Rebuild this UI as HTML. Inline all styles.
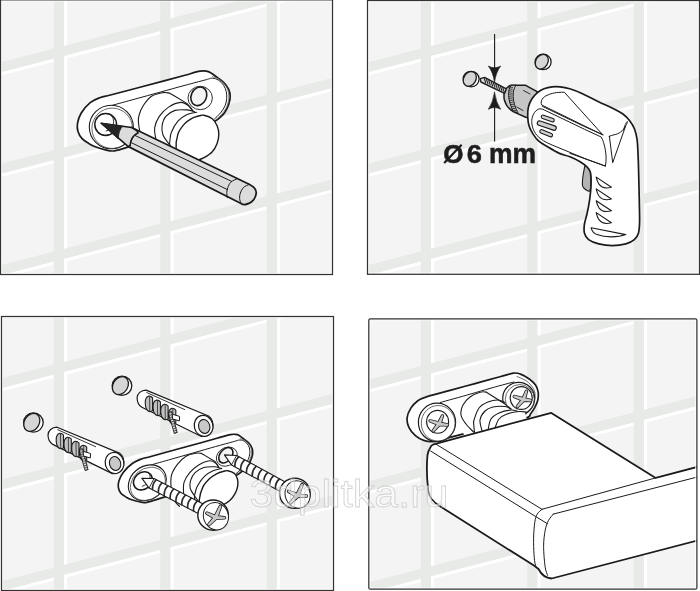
<!DOCTYPE html><html><head><meta charset="utf-8"><style>
html,body{margin:0;padding:0;background:#fff;width:700px;height:591px;overflow:hidden}
svg{display:block}
</style></head><body>
<svg width="700" height="591" viewBox="0 0 700 591">
<defs><filter id="gs" x="-0.05" y="-0.2" width="1.1" height="1.4"><feColorMatrix type="saturate" values="0"/></filter><g id="tiles"><polygon points="-20,-23.72 360,-122.14 360,-118.94 -20,-20.52" fill="#ffffff"/>
<polygon points="-20,77.68 360,-20.74 360,-17.54 -20,80.88" fill="#ffffff"/>
<polygon points="-20,179.18 360,80.76 360,83.96 -20,182.38" fill="#ffffff"/>
<polygon points="-20,280.58 360,182.16 360,185.36 -20,283.78" fill="#ffffff"/>
<polygon points="-20,381.98 360,283.56 360,286.76 -20,385.18" fill="#ffffff"/>
<rect x="-42.40" y="-20" width="3.2" height="320" fill="#ffffff"/>
<rect x="64.00" y="-20" width="3.2" height="320" fill="#ffffff"/>
<rect x="170.40" y="-20" width="3.2" height="320" fill="#ffffff"/>
<rect x="276.90" y="-20" width="3.2" height="320" fill="#ffffff"/>
<rect x="383.30" y="-20" width="3.2" height="320" fill="#ffffff"/>
<polygon points="-20,-33.72 360,-132.14 360,-122.14 -20,-23.72" fill="#e8eae8"/>
<polygon points="-20,67.68 360,-30.74 360,-20.74 -20,77.68" fill="#e8eae8"/>
<polygon points="-20,169.18 360,70.76 360,80.76 -20,179.18" fill="#e8eae8"/>
<polygon points="-20,270.58 360,172.16 360,182.16 -20,280.58" fill="#e8eae8"/>
<polygon points="-20,371.98 360,273.56 360,283.56 -20,381.98" fill="#e8eae8"/>
<rect x="-52.60" y="-20" width="10.2" height="320" fill="#e8eae8"/>
<rect x="53.80" y="-20" width="10.2" height="320" fill="#e8eae8"/>
<rect x="160.20" y="-20" width="10.2" height="320" fill="#e8eae8"/>
<rect x="266.70" y="-20" width="10.2" height="320" fill="#e8eae8"/>
<rect x="373.10" y="-20" width="10.2" height="320" fill="#e8eae8"/></g>
<clipPath id="c0"><rect x="0.5" y="-0.15" width="332" height="274.65"/></clipPath>
<clipPath id="c1"><rect x="367.5" y="0.5" width="332" height="273.8"/></clipPath>
<clipPath id="c2"><rect x="1.5" y="316.5" width="332" height="274"/></clipPath>
<clipPath id="c3"><rect x="368.8" y="318.8" width="328.1" height="270.4"/></clipPath>
</defs>
<rect width="700" height="591" fill="#fff"/>
<g clip-path="url(#c0)"><rect x="0.5" y="-0.15" width="332" height="274.65" fill="#f4f4f4"/><use href="#tiles" transform="translate(0,0) scale(1,1)"/></g>
<g clip-path="url(#c1)"><rect x="367.5" y="0.5" width="332" height="273.8" fill="#f4f4f4"/><use href="#tiles" transform="translate(367,0) scale(1,1)"/></g>
<g clip-path="url(#c2)"><rect x="1.5" y="316.5" width="332" height="274" fill="#f4f4f4"/><use href="#tiles" transform="translate(0,316) scale(1,1)"/></g>
<g clip-path="url(#c3)"><rect x="368.8" y="318.8" width="328.1" height="270.4" fill="#f4f4f4"/><use href="#tiles" transform="translate(367,317.4) scale(1,1)"/></g>
<g clip-path="url(#c0)"><g id="bracket">
<path vector-effect="non-scaling-stroke" d="M110.5,95 C117.1,93.3 130.9,89.6 140,87.2 C149.1,84.8 157.5,82.6 165,80.6 C172.5,78.6 179.1,76.8 185,75.2 C190.9,73.6 196.3,71.8 200.2,71.2 C204.1,70.6 205.8,70.8 208.4,71.6 C211,72.4 213,74.4 215.5,76.2 C218,78 221.4,80.1 223.6,82.3 C225.8,84.5 227.6,87 228.7,89.4 C229.8,91.8 230.2,94 230.2,96.5 C230.2,99 229.6,101.9 228.7,104.6 C227.8,107.3 226.3,110.4 224.6,112.8 C222.9,115.2 220.6,117.3 218.5,118.9 C216.4,120.5 215.9,121.1 212,122.5 C208.1,123.9 202.8,125.2 195,127.5 C187.2,129.8 175,133.3 165,136.2 C155,139.1 143.4,142.5 135,144.9 C126.6,147.3 119.5,150 114.6,150.8 C109.7,151.6 108.7,150.5 105.5,149.8 C102.3,149.1 98,147.8 95.3,146.8 C92.6,145.8 91.4,145 89.2,143.7 C87,142.3 84,140.7 82.1,138.7 C80.2,136.7 78.8,134.1 78,131.5 C77.2,128.9 77,126.4 77.5,123.4 C78,120.4 79,116.8 81.1,113.3 C83.2,109.8 87,105.2 90.2,102.6 C93.4,100 97,98.8 100.4,97.5 C103.8,96.2 103.9,96.7 110.5,95Z" fill="#fff" stroke="#1b1b1b" stroke-width="1.7" stroke-linejoin="round" stroke-linecap="round" />
<path vector-effect="non-scaling-stroke" d="M112.6,105.2 C116.3,104.2 127,101.3 134.9,99.1 C142.8,96.9 151.7,94.5 160,92.2 C168.3,89.9 177.5,87.3 185,85.3 C192.5,83.3 200.4,81.2 205,80 C209.6,78.8 210.2,78.2 212.4,78.2 C214.7,78.2 216.6,79 218.5,80.2 C220.4,81.4 222.3,83.4 223.6,85.3 C224.9,87.2 225.7,89.2 226.2,91.4 C226.7,93.6 226.9,96.1 226.7,98.5 C226.5,100.9 226.1,103.2 225.1,105.6 C224.1,108 222.4,110.6 220.6,112.8 C218.8,115 215.5,118 214.5,119" fill="none" stroke="#1b1b1b" stroke-width="1.0" stroke-linejoin="round" stroke-linecap="round" />
<path vector-effect="non-scaling-stroke" d="M212.4,76.6 C213.6,77 217.3,77.8 219.5,79.2 C221.7,80.6 223.9,82.8 225.3,84.8 C226.8,86.8 227.6,89.1 228.2,91.4 C228.8,93.7 228.9,96.1 228.7,98.5 C228.5,100.9 228.1,103.3 227.1,105.8 C226.1,108.2 224.4,110.9 222.6,113.2 C220.8,115.5 217.1,118.5 216,119.6" fill="none" stroke="#555" stroke-width="0.7" stroke-linejoin="round" stroke-linecap="round" />
<ellipse vector-effect="non-scaling-stroke" cx="111.3" cy="127" rx="22" ry="21.8" fill="#fff" stroke="#1b1b1b" stroke-width="1.1" />
<ellipse vector-effect="non-scaling-stroke" cx="112.2" cy="128.3" rx="20.3" ry="20.2" fill="none" stroke="#444" stroke-width="0.8" />
<ellipse vector-effect="non-scaling-stroke" cx="105.7" cy="124.5" rx="10.9" ry="11.1" fill="#fff" stroke="#1b1b1b" stroke-width="1.5" />
<path vector-effect="non-scaling-stroke" d="M108.5,113.8 C109.2,114.3 111.7,115.5 112.5,117 C113.3,118.5 113.8,121.1 113.5,123 C113.2,124.9 112.2,127.2 111,128.5 C109.8,129.8 106.8,130.6 106,131" fill="none" stroke="#1b1b1b" stroke-width="0.9" stroke-linejoin="round" stroke-linecap="round" />
<path vector-effect="non-scaling-stroke" d="M98,133 C98.8,133.4 101,135.1 103,135.3 C105,135.6 108.8,134.6 110,134.5" fill="none" stroke="#1b1b1b" stroke-width="0.8" stroke-linejoin="round" stroke-linecap="round" />
<ellipse vector-effect="non-scaling-stroke" cx="200.2" cy="98" rx="12.2" ry="11.7" fill="none" stroke="#1b1b1b" stroke-width="0.9" />
<ellipse vector-effect="non-scaling-stroke" cx="198.8" cy="96.3" rx="7.6" ry="9.6" fill="#f4f4f4" stroke="#1b1b1b" stroke-width="1.6" transform="rotate(25 198.8 96.3)" />
<path vector-effect="non-scaling-stroke" d="M168.8,93 C170.5,93.4 170.2,93.3 173.3,95 C176.4,96.7 183.9,100.8 187.2,103.4 C190.4,106 190.8,108.7 192.8,110.8 C194.8,112.9 197.4,115.3 199.3,116 C201.2,116.7 201.8,114.6 204,115.1 C206.2,115.5 210.1,116.9 212.3,118.7 C214.5,120.5 216,123.2 217.1,125.8 C218.2,128.4 218.8,131.2 218.8,134.1 C218.8,137 218.2,140.6 217.1,143.5 C216,146.4 214.5,149.4 212.3,151.8 C210.1,154.2 207.7,156 204,157.7 C200.3,159.4 197.3,161.6 190,162 C182.7,162.4 167.8,163.7 160,160 C152.2,156.3 146.3,144.7 143,140 C139.7,135.3 140.8,135.2 140,132 C139.2,128.8 138.6,123.3 138.4,120.5 C138.2,117.7 138.2,117.5 139.1,115 C139.9,112.5 141.4,108.5 143.5,105.3 C145.6,102.1 148.7,98.1 151.9,96 C155.1,93.9 160.1,93.1 162.9,92.6 C165.7,92.1 167.1,92.6 168.8,93Z" fill="#fff" stroke="none" stroke-width="1.0" stroke-linejoin="round" stroke-linecap="round" />
<path vector-effect="non-scaling-stroke" d="M169,93 C168,92.9 165.8,92.1 162.9,92.6 C160.1,93.1 155.1,93.9 151.9,96 C148.7,98.1 145.6,102.1 143.5,105.3 C141.4,108.5 139.9,112.2 139.1,115 C138.2,117.8 138.2,119.2 138.4,122 C138.6,124.8 139.2,128.7 140,132 C140.8,135.3 141.7,138.8 143,142 C144.3,145.2 146.2,148.5 148,151 C149.8,153.5 153,156 154,157" fill="none" stroke="#1b1b1b" stroke-width="1.1" stroke-linejoin="round" stroke-linecap="round" />
<path vector-effect="non-scaling-stroke" d="M169,93 L173.3,95.3 L187.2,103.6 L192.8,110.8" fill="none" stroke="#1b1b1b" stroke-width="1.1" stroke-linejoin="round" stroke-linecap="round" />
<path vector-effect="non-scaling-stroke" d="M163,156 C162.2,154.7 159.2,151 158,148 C156.8,145 156.2,141.2 155.6,137.8 C155,134.4 154.1,131.2 154.7,127.6 C155.3,124 157,119.8 159.3,116.4 C161.6,113 165,109.4 168.6,107.1 C172.2,104.8 177.3,102.6 180.7,102.4 C184.1,102.2 187.1,104.8 189.1,106.2 C191.1,107.6 192.2,110 192.8,110.8" fill="none" stroke="#1b1b1b" stroke-width="1.1" stroke-linejoin="round" stroke-linecap="round" />
<path vector-effect="non-scaling-stroke" d="M175,151 C173.9,149.7 170.6,146.1 168.6,143.4 C166.6,140.7 164.1,137.9 163,135 C161.9,132.1 161.6,128.8 162.1,125.7 C162.6,122.6 163.6,119 165.8,116.4 C168,113.9 171.5,111.5 175.1,110.4 C178.7,109.3 183.9,109.7 187.2,109.9 C190.5,110.1 193.4,111.5 194.7,111.8" fill="none" stroke="#1b1b1b" stroke-width="1.1" stroke-linejoin="round" stroke-linecap="round" />
<path vector-effect="non-scaling-stroke" d="M173,155 C172.5,153.5 170.3,148.5 169.8,146 C169.3,143.5 169.7,142.3 170,140 C170.3,137.7 170.1,135.3 171.4,132.2 C172.7,129 175.3,124 177.9,121.1 C180.5,118.2 184.1,116.1 187.2,114.6 C190.3,113.1 195,112.6 196.6,112.2" fill="none" stroke="#1b1b1b" stroke-width="1.1" stroke-linejoin="round" stroke-linecap="round" />
<path vector-effect="non-scaling-stroke" d="M180,160 C179.3,158.3 176.4,154.3 176.1,150 C175.8,145.7 176.5,138.4 177.9,134.1 C179.3,129.8 182.2,126.5 184.5,123.9 C186.8,121.3 189.4,119.7 191.9,118.3 C194.4,116.9 197.3,116.3 199.3,115.8 C201.3,115.3 201.8,114.8 204,115.3 C206.2,115.8 210.1,117 212.3,118.7 C214.5,120.5 216,123.2 217.1,125.8 C218.2,128.4 218.8,131.2 218.8,134.1 C218.8,137 218.2,140.6 217.1,143.5 C216,146.4 214.5,149.4 212.3,151.8 C210.1,154.2 206.7,156.2 204,157.7 C201.3,159.2 197.3,160.4 196,161" fill="#fff" stroke="#1b1b1b" stroke-width="1.4" stroke-linejoin="round" stroke-linecap="round" />
</g>
<path d="M131.6,127.5 L249.1,184.2 C253.5,186.3 256.6,189.6 256.2,193.3 C255.8,198 252.2,203.4 245.5,204.5 C243.5,204.8 242,204.2 241,203.5 L128,146.4 Z" fill="#dcdcdc" stroke="#1b1b1b" stroke-width="1.8" stroke-linejoin="round" stroke-linecap="round" />
<path d="M101.2,123.2 L131.6,127.5 C135.5,129.5 138,131.5 138,132.9 C133,135 130.5,140 130.1,145.5 L128,146.4 Z" fill="#dcdcdc" stroke="#1b1b1b" stroke-width="1.6" stroke-linejoin="round" stroke-linecap="round" />
<path d="M138,132.6 C133,135 130.6,140 130.3,146" fill="none" stroke="#1b1b1b" stroke-width="1.0" stroke-linejoin="round" stroke-linecap="round" />
<path d="M101.2,123.2 L122.8,126.3 C119.8,129 118.4,133 118.3,138.5 Z" fill="#262626" stroke="#262626" stroke-width="1.0" stroke-linejoin="round" stroke-linecap="round" />
<path d="M135.3,135.6 L231.6,181.4" fill="none" stroke="#1b1b1b" stroke-width="1.0" stroke-linejoin="round" stroke-linecap="round" />
<path d="M131.6,142.8 L227.4,189.6" fill="none" stroke="#1b1b1b" stroke-width="1.0" stroke-linejoin="round" stroke-linecap="round" />
<path d="M237.4,178.6 C236.3,179.2 232.4,180.7 230.8,182.2 C229.2,183.7 228.5,185.9 227.8,187.6 C227.1,189.3 226.9,190.7 226.8,192.3 C226.7,194 227.1,196.6 227.2,197.5" fill="none" stroke="#1b1b1b" stroke-width="1.0" stroke-linejoin="round" stroke-linecap="round" />
<path d="M249.2,184.4 C248.2,184.9 245,186.1 243.5,187.5 C242,188.9 241,191.2 240.3,193 C239.7,194.8 239.5,196.8 239.6,198.5 C239.7,200.2 240.8,202.7 241,203.5" fill="none" stroke="#1b1b1b" stroke-width="1.0" stroke-linejoin="round" stroke-linecap="round" /></g>
<g clip-path="url(#c1)"><path d="M584.8,166 C584.5,167.7 583.4,172.8 583,176 C582.6,179.2 582.1,183.2 582.5,185.5 C582.9,187.8 584.3,188.6 585.5,189.5 C586.7,190.4 588.7,191.9 589.6,190.8 C590.5,189.7 590.9,186.1 591,183 C591.1,179.9 590.6,173.8 590.5,172" fill="#b4b4b4" stroke="#1b1b1b" stroke-width="1.1" stroke-linejoin="round" stroke-linecap="round" />
<path d="M504,92.1 C504.5,89.5 506,88 507.4,87.6 C508.5,86.5 509.5,85.6 510.9,85.3 L525.7,85.3 L537.1,91.6 L535,118 L529,117.9 L525.7,117.3 L513.1,111.6 C509.5,109 507.2,106.8 506.3,104.7 C505,102 504,100 504,97.9 Z" fill="#c6c6c6" stroke="#1b1b1b" stroke-width="1.5" stroke-linejoin="round" stroke-linecap="round" />
<path d="M511,85.6 C507.5,89 507.3,100 513.3,111.4 L517.8,112.8 C511.8,101 512,90 515.8,85.5 Z" fill="#d0d0d0" stroke="#1b1b1b" stroke-width="1.0" stroke-linejoin="round" stroke-linecap="round" />
<path d="M509.5,87 L512.7,87.4 M509.2,88.9 L512.4,89.3 M509,90.8 L512.2,91.2 M508.9,92.8 L512.1,93.2 M508.9,94.7 L512.1,95.1 M509,96.7 L512.2,97.1 M509.2,98.6 L512.4,99 M509.5,100.5 L512.7,100.9 M510,102.5 L513.2,102.9 M510.6,104.4 L513.8,104.8 M511.3,106.4 L514.5,106.8 M512,108.3 L515.2,108.7 M512.8,110.2 L516,110.6" fill="none" stroke="#2a2a2a" stroke-width="0.9" stroke-linejoin="round" stroke-linecap="round" />
<path d="M523.5,90.5 L530,94" fill="none" stroke="#1b1b1b" stroke-width="0.9" stroke-linejoin="round" stroke-linecap="round" />
<path d="M516.8,107 L523,110.5" fill="none" stroke="#1b1b1b" stroke-width="0.9" stroke-linejoin="round" stroke-linecap="round" />
<path d="M480.3,78.6 L484.6,77.4 L506.3,88.9 L504.6,93.4 L480.9,82 Z" fill="#dedede" stroke="#1b1b1b" stroke-width="1.4" stroke-linejoin="round" stroke-linecap="round" />
<path d="M484.2,78.3 L485.6,82.5 M486.5,79.5 L487.9,83.7 M488.8,80.6 L490.2,84.8 M491.2,81.8 L492.6,86 M493.5,83 L494.9,87.2 M495.8,84.1 L497.2,88.3 M498.2,85.3 L499.6,89.5 M500.5,86.5 L501.9,90.7 M502.8,87.6 L504.2,91.8" fill="none" stroke="#222" stroke-width="1.1" stroke-linejoin="round" stroke-linecap="round" />
<path d="M537.2,92.9 C539.2,91.2 541.5,89.8 544,88.8 C546.5,87.8 549.4,87.1 552.1,86.8 C554.8,86.5 557.3,86.5 560.2,86.8 C563.1,87.1 566.1,87.7 569.7,88.8 C573.3,89.9 577.1,91.3 581.9,93.5 C586.7,95.7 593.5,99.4 598.5,101.8 C603.5,104.2 608,105.9 612.1,107.9 C616.2,109.9 620,111.9 622.9,114 C625.8,116.1 627.8,118.2 629.7,120.7 C631.6,123.2 633.2,125.6 634.4,128.8 C635.6,132 636.5,135.2 637.1,139.7 C637.7,144.2 637.8,150 638.1,155.9 C638.4,161.8 638.5,167.5 638.7,175 C638.9,182.5 639.1,193 639.3,200.7 C639.4,208.4 639.7,215.6 639.6,221 C639.5,226.4 639.4,229.8 638.5,232.9 C637.6,236 636.4,237.8 634.3,239.6 C632.2,241.4 629.5,242.9 625.8,243.9 C622.1,244.9 616.8,245.6 612.3,245.6 C607.8,245.6 602.8,244.9 598.8,243.9 C594.8,242.9 591,241.4 588.6,239.6 C586.2,237.8 585.1,235.4 584.4,232.9 C583.7,230.4 584,227.5 584.4,224.4 C584.8,221.3 586,218.2 586.9,214.3 C587.8,210.4 588.8,205.8 589.5,200.7 C590.2,195.6 591,188.6 591.1,183.8 C591.2,179 591,174.8 590.3,172 C589.6,169.2 588.6,168.6 586.9,166.9 C585.2,165.2 582.9,163.5 580.1,161.8 C577.3,160.1 573.5,158.2 570,156.8 C566.5,155.4 562.7,154.8 558.8,153.1 C554.9,151.3 550.1,148.3 546.7,146.3 C543.3,144.3 540.8,142.9 538.5,140.9 C536.2,138.9 534.7,136.6 533.1,134.1 C531.5,131.6 530,128.9 529.1,126 C528.2,123.1 527.8,119.7 527.7,116.5 C527.6,113.3 527.7,110 528.4,107.1 C529.1,104.2 530.3,101.4 531.8,99 C533.3,96.6 535.2,94.6 537.2,92.9Z" fill="#ffffff" stroke="#1b1b1b" stroke-width="1.7" stroke-linejoin="round" stroke-linecap="round" />
<path d="M541.5,104.6 C540,101 542.5,97 548,94.9 C552,93.2 556,92.2 564.3,92.2 L602.6,134.6 Z" fill="none" stroke="#1b1b1b" stroke-width="1.0" stroke-linejoin="round" stroke-linecap="round" />
<path d="M542.5,106.4 L585,126.8 L603.2,134.9" fill="none" stroke="#1b1b1b" stroke-width="1.0" stroke-linejoin="round" stroke-linecap="round" />
<path d="M585,129.5 L601.2,137 C603.5,141 605.5,148 606,155.9 C606.3,160 605.8,163.5 605.3,166.1 L585,158.6 L552.1,145 C546,142.5 540.5,139.5 537,135.5 C533,130.5 531.5,125 531.8,120.6 C532,116 534.5,111 538.5,109.1 C540.5,108.6 542.5,108.9 544,109.8 Z" fill="none" stroke="#1b1b1b" stroke-width="1.0" stroke-linejoin="round" stroke-linecap="round" />
<path d="M570,153.4 L605.5,166.1" fill="none" stroke="#1b1b1b" stroke-width="1.0" stroke-linejoin="round" stroke-linecap="round" />
<line x1="543" y1="116.8" x2="552.5" y2="120.2" stroke="#1b1b1b" stroke-width="4.6" stroke-linecap="round"/><line x1="543" y1="116.8" x2="552.5" y2="120.2" stroke="#cfcfcf" stroke-width="2.4" stroke-linecap="round"/>
<line x1="539.5" y1="123.2" x2="554" y2="128" stroke="#1b1b1b" stroke-width="5.6" stroke-linecap="round"/><line x1="539.5" y1="123.2" x2="554" y2="128" stroke="#cfcfcf" stroke-width="3.4" stroke-linecap="round"/>
<line x1="541.5" y1="131.3" x2="550.8" y2="135.1" stroke="#1b1b1b" stroke-width="4.6" stroke-linecap="round"/><line x1="541.5" y1="131.3" x2="550.8" y2="135.1" stroke="#cfcfcf" stroke-width="2.4" stroke-linecap="round"/>
<path d="M609.4,136.3 L612.7,162.7 L625.6,126.1 C623,131 619,134 614,134.8 C612,135.2 610.5,135.9 609.4,136.3 Z" fill="none" stroke="#1b1b1b" stroke-width="1.0" stroke-linejoin="round" stroke-linecap="round" />
<path d="M625.6,126.1 C627.5,123 627.8,121.5 627.3,121.4 C626,122.5 624.5,126 623.6,130" fill="none" stroke="#1b1b1b" stroke-width="0.9" stroke-linejoin="round" stroke-linecap="round" />
<g transform="translate(0,0)"><path d="M596.2,177.1 L611.4,187.2 C606.5,188.6 601.5,187.6 599,184.2 C597.6,182.2 596.7,179.7 596.2,177.1 Z" fill="none" stroke="#1b1b1b" stroke-width="1.1" stroke-linejoin="round" stroke-linecap="round" /></g>
<g transform="translate(0,11.8)"><path d="M596.2,177.1 L611.4,187.2 C606.5,188.6 601.5,187.6 599,184.2 C597.6,182.2 596.7,179.7 596.2,177.1 Z" fill="none" stroke="#1b1b1b" stroke-width="1.1" stroke-linejoin="round" stroke-linecap="round" /></g>
<g transform="translate(0,23.6)"><path d="M596.2,177.1 L611.4,187.2 C606.5,188.6 601.5,187.6 599,184.2 C597.6,182.2 596.7,179.7 596.2,177.1 Z" fill="none" stroke="#1b1b1b" stroke-width="1.1" stroke-linejoin="round" stroke-linecap="round" /></g>
<g transform="translate(0,35.5)"><path d="M596.2,177.1 L611.4,187.2 C606.5,188.6 601.5,187.6 599,184.2 C597.6,182.2 596.7,179.7 596.2,177.1 Z" fill="none" stroke="#1b1b1b" stroke-width="1.1" stroke-linejoin="round" stroke-linecap="round" /></g>
<path d="M591.1,227.8 L625.8,234.6 C618,237.6 605,237.6 597,234.6 C594,233.4 592,231.2 591.1,227.8 Z" fill="none" stroke="#1b1b1b" stroke-width="1.1" stroke-linejoin="round" stroke-linecap="round" />
<ellipse cx="471.1" cy="79.1" rx="8" ry="7.8" fill="#fff" stroke="#1b1b1b" stroke-width="1.3" />
<ellipse cx="469.8" cy="78.9" rx="6" ry="7.8" fill="#d6d6d6" stroke="#1b1b1b" stroke-width="1.3" transform="rotate(32 469.8 78.9)" />
<ellipse cx="543.1" cy="61.9" rx="8" ry="7.8" fill="#fff" stroke="#1b1b1b" stroke-width="1.3" />
<ellipse cx="541.8" cy="61.7" rx="6" ry="7.8" fill="#d6d6d6" stroke="#1b1b1b" stroke-width="1.3" transform="rotate(32 541.8 61.7)" />
<line x1="494.6" y1="34" x2="494.6" y2="72" stroke="#1b1b1b" stroke-width="1.1"/>
<line x1="494.6" y1="100" x2="494.6" y2="141.5" stroke="#1b1b1b" stroke-width="1.1"/>
<path d="M494.5,82.3 Q493,72 488.3,66 Q494.5,69.5 500.7,66 Q496,72 494.5,82.3 Z" fill="#1b1b1b" stroke="#1b1b1b" stroke-width="0.6" stroke-linejoin="round" stroke-linecap="round" />
<path d="M494.5,92.2 Q493,102.5 488.3,109.3 Q494.5,105.8 500.7,109.3 Q496,102.5 494.5,92.2 Z" fill="#1b1b1b" stroke="#1b1b1b" stroke-width="0.6" stroke-linejoin="round" stroke-linecap="round" />
<g font-family="Liberation Sans" font-weight="bold" fill="#1e1e1e" stroke="#1e1e1e" stroke-width="0.55" filter="url(#gs)"><text x="0" y="0" font-size="26" transform="translate(443.2,163.2)">O</text><text x="0" y="0" font-size="26.5" transform="translate(466.8,163.2) scale(1.03,1)">6</text><text x="0" y="0" font-size="27" transform="translate(489,163.2) scale(0.98,1)">mm</text></g>
<line x1="444.2" y1="163" x2="461.6" y2="144.8" stroke="#1e1e1e" stroke-width="2.2"/></g>
<g clip-path="url(#c2)"><ellipse cx="33.4" cy="422.6" rx="9.8" ry="9.6" fill="#fff" stroke="#1b1b1b" stroke-width="1.3" />
<ellipse cx="31.8" cy="422.4" rx="7.4" ry="9.6" fill="#d6d6d6" stroke="#1b1b1b" stroke-width="1.3" transform="rotate(32 31.8 422.4)" />
<ellipse cx="122" cy="385.8" rx="9.8" ry="9.6" fill="#fff" stroke="#1b1b1b" stroke-width="1.3" />
<ellipse cx="120.4" cy="385.6" rx="7.4" ry="9.6" fill="#d6d6d6" stroke="#1b1b1b" stroke-width="1.3" transform="rotate(32 120.4 385.6)" />
<g id="dowel"><path d="M146.1,390.1 L208.5,416 C212.5,419 213.5,424 212.6,428.5 C211.4,433.5 207,436.6 201.5,436.5 L141.9,407.3 C139,405.5 137.2,402 137.1,397.9 C137.2,393.5 141,390.2 146.1,390.1 Z" fill="#fff" stroke="#1b1b1b" stroke-width="1.2" stroke-linejoin="round" stroke-linecap="round" />
<ellipse cx="203.6" cy="425.9" rx="9.3" ry="10.6" fill="#fff" stroke="#1b1b1b" stroke-width="1.2" transform="rotate(-15 203.6 425.9)" />
<ellipse cx="204.2" cy="426.4" rx="5.6" ry="7" fill="#c9c9c9" stroke="#1b1b1b" stroke-width="1.1" transform="rotate(-15 204.2 426.4)" />
<path d="M146.8,392.6 L184.7,409.6" fill="none" stroke="#1b1b1b" stroke-width="0.9" stroke-linejoin="round" stroke-linecap="round" />
<g transform="translate(0,0)"><path d="M152.6,397.9 C151.5,396.5 150,396 148.7,396.1 C146.2,397 145,400.5 145.3,404 C145.5,408 147.5,411 149.6,411.6 C151,411.6 152.3,411 152.6,410.7 Z" fill="#c2c2c2" stroke="#1b1b1b" stroke-width="1.1" stroke-linejoin="round" stroke-linecap="round" /><path d="M149.6,396.6 L149.8,411.2" fill="none" stroke="#333" stroke-width="0.9" stroke-linejoin="round" stroke-linecap="round" /></g>
<g transform="translate(7.8,4)"><path d="M152.6,397.9 C151.5,396.5 150,396 148.7,396.1 C146.2,397 145,400.5 145.3,404 C145.5,408 147.5,411 149.6,411.6 C151,411.6 152.3,411 152.6,410.7 Z" fill="#c2c2c2" stroke="#1b1b1b" stroke-width="1.1" stroke-linejoin="round" stroke-linecap="round" /><path d="M149.6,396.6 L149.8,411.2" fill="none" stroke="#333" stroke-width="0.9" stroke-linejoin="round" stroke-linecap="round" /></g>
<g transform="translate(15.5,8.1)"><path d="M152.6,397.9 C151.5,396.5 150,396 148.7,396.1 C146.2,397 145,400.5 145.3,404 C145.5,408 147.5,411 149.6,411.6 C151,411.6 152.3,411 152.6,410.7 Z" fill="#c2c2c2" stroke="#1b1b1b" stroke-width="1.1" stroke-linejoin="round" stroke-linecap="round" /><path d="M149.6,396.6 L149.8,411.2" fill="none" stroke="#333" stroke-width="0.9" stroke-linejoin="round" stroke-linecap="round" /></g>
<g transform="translate(23.2,12.1)"><path d="M152.6,397.9 C151.5,396.5 150,396 148.7,396.1 C146.2,397 145,400.5 145.3,404 C145.5,408 147.5,411 149.6,411.6 C151,411.6 152.3,411 152.6,410.7 Z" fill="#c2c2c2" stroke="#1b1b1b" stroke-width="1.1" stroke-linejoin="round" stroke-linecap="round" /><path d="M149.6,396.6 L149.8,411.2" fill="none" stroke="#333" stroke-width="0.9" stroke-linejoin="round" stroke-linecap="round" /></g>
<path d="M168.6,412.2 L171.6,411.6 L177,432.3 L174.6,433.4 Z" fill="#d8d8d8" stroke="#1b1b1b" stroke-width="0.9" stroke-linejoin="round" stroke-linecap="round" />
<path d="M169.4,413 L172,412.4 M170,415.2 L172.6,414.6 M170.6,417.4 L173.2,416.8 M171.2,419.7 L173.8,419.1 M171.8,421.9 L174.4,421.3 M172.4,424.1 L175,423.5 M173,426.3 L175.6,425.7 M173.6,428.6 L176.2,428 M174.2,430.8 L176.8,430.2 M174.8,433 L177.4,432.4" fill="none" stroke="#333" stroke-width="0.8" stroke-linejoin="round" stroke-linecap="round" />
<path d="M172.6,414.3 L179.6,416.4 L179.4,420.9 L172.8,419 Z" fill="#ffffff" stroke="#1b1b1b" stroke-width="1.0" stroke-linejoin="round" stroke-linecap="round" /></g>
<use href="#dowel" transform="translate(-89.1,37.1)"/>
<use href="#bracket" transform="matrix(0.8506,-0.026,-0.1357,0.823,69.83,381.17)"/>
<g transform="translate(224.4,454.9) rotate(28.6)">
<path d="M0,0 L11,-5.4 L72.2,-5.4 L72.2,5.4 L11,5.4 Z" fill="#fff" stroke="#1b1b1b" stroke-width="1.1" stroke-linejoin="round" stroke-linecap="round" />
<path d="M13.5,-5.1000000000000005 Q11.7,0 14.7,5.1000000000000005 M20.1,-5.1000000000000005 Q18.3,0 21.3,5.1000000000000005 M26.7,-5.1000000000000005 Q24.9,0 27.9,5.1000000000000005 M33.3,-5.1000000000000005 Q31.5,0 34.5,5.1000000000000005 M39.9,-5.1000000000000005 Q38.1,0 41.1,5.1000000000000005 M46.5,-5.1000000000000005 Q44.7,0 47.7,5.1000000000000005 M53.1,-5.1000000000000005 Q51.3,0 54.3,5.1000000000000005 M59.7,-5.1000000000000005 Q57.9,0 60.9,5.1000000000000005 M66.3,-5.1000000000000005 Q64.5,0 67.5,5.1000000000000005" fill="none" stroke="#2a2a2a" stroke-width="1.7" stroke-linejoin="round" stroke-linecap="round" />
<path d="M11,-5.4 L11,5.4" fill="none" stroke="#1b1b1b" stroke-width="0.8" stroke-linejoin="round" stroke-linecap="round" />
</g>
<ellipse cx="294.8" cy="493.3" rx="15.3" ry="15.1" fill="#fff" stroke="#1b1b1b" stroke-width="1.4" />
<ellipse cx="297.6" cy="494.4" rx="12.4" ry="13.9" fill="#fff" stroke="#1b1b1b" stroke-width="1.0" transform="rotate(-20 297.6 494.4)" />
<path d="M299,496.3 L302.9,485 A0.9,0.9 0 0 0 301.2,484.3 L295.9,495 Z M298.2,494.1 L289.1,490.5 A0.9,0.9 0 0 0 288.2,492.2 L296.7,497.2 Z M297.4,497.3 L306.3,496.9 A0.9,0.9 0 0 0 306.4,495 L297.5,494 Z M296.2,494.5 L290.1,502 A0.9,0.9 0 0 0 291.4,503.3 L298.7,496.8 Z" fill="#262626" stroke="#262626" stroke-width="1.7" stroke-linejoin="round"/><path d="M299,496.3 L302.9,485 A0.9,0.9 0 0 0 301.2,484.3 L295.9,495 Z M298.2,494.1 L289.1,490.5 A0.9,0.9 0 0 0 288.2,492.2 L296.7,497.2 Z M297.4,497.3 L306.3,496.9 A0.9,0.9 0 0 0 306.4,495 L297.5,494 Z M296.2,494.5 L290.1,502 A0.9,0.9 0 0 0 291.4,503.3 L298.7,496.8 Z" fill="#c8c8c8" stroke="none"/><circle cx="297.4" cy="495.7" r="1.7" fill="#c8c8c8"/>
<g transform="translate(141.8,478.2) rotate(27.4)">
<path d="M0,0 L11,-5.4 L72.3,-5.4 L72.3,5.4 L11,5.4 Z" fill="#fff" stroke="#1b1b1b" stroke-width="1.1" stroke-linejoin="round" stroke-linecap="round" />
<path d="M13.5,-5.1000000000000005 Q11.7,0 14.7,5.1000000000000005 M20.1,-5.1000000000000005 Q18.3,0 21.3,5.1000000000000005 M26.7,-5.1000000000000005 Q24.9,0 27.9,5.1000000000000005 M33.3,-5.1000000000000005 Q31.5,0 34.5,5.1000000000000005 M39.9,-5.1000000000000005 Q38.1,0 41.1,5.1000000000000005 M46.5,-5.1000000000000005 Q44.7,0 47.7,5.1000000000000005 M53.1,-5.1000000000000005 Q51.3,0 54.3,5.1000000000000005 M59.7,-5.1000000000000005 Q57.9,0 60.9,5.1000000000000005 M66.3,-5.1000000000000005 Q64.5,0 67.5,5.1000000000000005" fill="none" stroke="#2a2a2a" stroke-width="1.7" stroke-linejoin="round" stroke-linecap="round" />
<path d="M11,-5.4 L11,5.4" fill="none" stroke="#1b1b1b" stroke-width="0.8" stroke-linejoin="round" stroke-linecap="round" />
</g>
<ellipse cx="213.1" cy="515.1" rx="15.3" ry="15.1" fill="#fff" stroke="#1b1b1b" stroke-width="1.4" />
<ellipse cx="215.9" cy="516.2" rx="12.4" ry="13.9" fill="#fff" stroke="#1b1b1b" stroke-width="1.0" transform="rotate(-20 215.9 516.2)" />
<path d="M217.3,518.2 L221.2,506.9 A0.9,0.9 0 0 0 219.4,506.1 L214.1,516.8 Z M216.4,516 L207.3,512.3 A0.9,0.9 0 0 0 206.5,514.1 L215,519 Z M215.6,519.2 L224.6,518.7 A0.9,0.9 0 0 0 224.6,516.9 L215.8,515.8 Z M214.5,516.3 L208.3,523.8 A0.9,0.9 0 0 0 209.7,525.2 L216.9,518.7 Z" fill="#262626" stroke="#262626" stroke-width="1.7" stroke-linejoin="round"/><path d="M217.3,518.2 L221.2,506.9 A0.9,0.9 0 0 0 219.4,506.1 L214.1,516.8 Z M216.4,516 L207.3,512.3 A0.9,0.9 0 0 0 206.5,514.1 L215,519 Z M215.6,519.2 L224.6,518.7 A0.9,0.9 0 0 0 224.6,516.9 L215.8,515.8 Z M214.5,516.3 L208.3,523.8 A0.9,0.9 0 0 0 209.7,525.2 L216.9,518.7 Z" fill="#c8c8c8" stroke="none"/><circle cx="215.7" cy="517.5" r="1.7" fill="#c8c8c8"/></g>
<g clip-path="url(#c3)"><path d="M427.2,396.6 C432.6,394.9 442,392.6 450,390.4 C458,388.2 466.7,385.9 475,383.6 C483.3,381.3 493.6,378.6 500,376.8 C506.4,375.1 510,373.6 513.4,373.1 C516.8,372.7 517.8,373.1 520.5,374.1 C523.2,375.1 527.1,377.3 529.6,379.2 C532.1,381.1 534.3,383.1 535.7,385.3 C537.1,387.5 537.9,389.9 538.2,392.4 C538.5,394.9 538.3,398 537.7,400.5 C537.1,403 535.9,405.4 534.7,407.6 C533.5,409.8 532,412 530.6,413.7 C529.2,415.4 531.6,416 526.5,417.8 C521.4,419.6 509.4,422.2 500,424.6 C490.6,427 479.2,429.9 470,432.2 C460.8,434.5 451.1,437 445,438.6 C438.9,440.2 436.8,441.3 433.2,441.6 C429.6,441.9 426.7,441.4 423.7,440.4 C420.7,439.4 417.9,437.9 415.4,435.7 C412.9,433.5 410.3,430.4 408.9,427.4 C407.5,424.4 406.8,421.1 407.1,417.9 C407.4,414.7 408.9,411.3 410.7,408.4 C412.5,405.5 415.1,402.7 417.8,400.7 C420.6,398.7 421.8,398.3 427.2,396.6Z" fill="#fff" stroke="#1b1b1b" stroke-width="1.7" stroke-linejoin="round" stroke-linecap="round" />
<path d="M517,376.5 C518.6,377.2 523.9,379.2 526.5,381 C529.1,382.8 531.2,385.2 532.6,387.3 C534,389.4 534.7,391.2 535,393.5 C535.3,395.8 535,398.4 534.4,400.8 C533.8,403.2 532.6,405.7 531.4,407.8 C530.2,409.9 528.6,411.7 527,413.3 C525.4,414.9 522.8,416.8 522,417.5" fill="none" stroke="#444" stroke-width="0.8" stroke-linejoin="round" stroke-linecap="round" />
<path d="M440.3,402.5 C445.2,401.1 461.7,396.6 470,394.2 C478.3,391.8 484,390.1 490,388.4 C496,386.7 502,385.1 506,384 C510,382.9 512.7,382.3 514,382" fill="none" stroke="#1b1b1b" stroke-width="1.0" stroke-linejoin="round" stroke-linecap="round" />
<ellipse cx="437" cy="422.4" rx="18.6" ry="19.2" fill="#fff" stroke="#1b1b1b" stroke-width="1.2" />
<ellipse cx="438.2" cy="423.3" rx="16.9" ry="17.8" fill="none" stroke="#444" stroke-width="0.8" />
<ellipse cx="518.7" cy="398.5" rx="16" ry="16.2" fill="#fff" stroke="#1b1b1b" stroke-width="1.2" />
<ellipse cx="519.8" cy="399.3" rx="14.5" ry="14.8" fill="none" stroke="#444" stroke-width="0.8" />
<ellipse cx="437.6" cy="421.8" rx="11" ry="11.4" fill="#fff" stroke="#1b1b1b" stroke-width="1.1" />
<path d="M440.6,424.4 L443.4,415.8 A0.9,0.9 0 0 0 441.8,415.2 L437.6,423.2 Z M439.6,422.3 L430.5,420 A0.9,0.9 0 0 0 429.9,421.8 L438.6,425.3 Z M438.9,425.4 L447.3,425.9 A0.9,0.9 0 0 0 447.5,424.1 L439.3,422.2 Z M437.9,422.8 L432.5,430.3 A0.9,0.9 0 0 0 433.9,431.5 L440.3,424.8 Z" fill="#262626" stroke="#262626" stroke-width="1.7" stroke-linejoin="round"/><path d="M440.6,424.4 L443.4,415.8 A0.9,0.9 0 0 0 441.8,415.2 L437.6,423.2 Z M439.6,422.3 L430.5,420 A0.9,0.9 0 0 0 429.9,421.8 L438.6,425.3 Z M438.9,425.4 L447.3,425.9 A0.9,0.9 0 0 0 447.5,424.1 L439.3,422.2 Z M437.9,422.8 L432.5,430.3 A0.9,0.9 0 0 0 433.9,431.5 L440.3,424.8 Z" fill="#c8c8c8" stroke="none"/><circle cx="439.1" cy="423.8" r="1.6" fill="#c8c8c8"/>
<ellipse cx="521.2" cy="398" rx="11" ry="11.4" fill="#fff" stroke="#1b1b1b" stroke-width="1.1" />
<path d="M525,400 L527.3,391.2 A0.9,0.9 0 0 0 525.7,390.6 L522,399 Z M524,398 L514.7,395.6 A0.9,0.9 0 0 0 514.1,397.4 L523,401 Z M523.3,401.1 L530.5,401.4 A0.9,0.9 0 0 0 530.7,399.6 L523.7,397.9 Z M522.3,398.5 L516.7,406 A0.9,0.9 0 0 0 518.1,407.2 L524.7,400.5 Z" fill="#262626" stroke="#262626" stroke-width="1.7" stroke-linejoin="round"/><path d="M525,400 L527.3,391.2 A0.9,0.9 0 0 0 525.7,390.6 L522,399 Z M524,398 L514.7,395.6 A0.9,0.9 0 0 0 514.1,397.4 L523,401 Z M523.3,401.1 L530.5,401.4 A0.9,0.9 0 0 0 530.7,399.6 L523.7,397.9 Z M522.3,398.5 L516.7,406 A0.9,0.9 0 0 0 518.1,407.2 L524.7,400.5 Z" fill="#c8c8c8" stroke="none"/><circle cx="523.5" cy="399.5" r="1.6" fill="#c8c8c8"/>
<path d="M486,392 C490.2,394 500.8,401.2 505,404 C509.2,406.8 508.7,407.8 511,409 C513.3,410.2 516.7,410.8 519,411.5 C521.3,412.2 524,408.2 525,413 C526,417.8 534.2,435.5 525,440 C515.8,444.5 480.7,444.2 470,440 C459.3,435.8 462.2,420.8 461,415 C459.8,409.2 461.5,408 463,405 C464.5,402 467.2,399.2 470,397 C472.8,394.8 477.3,392.8 480,392 C482.7,391.2 481.8,390 486,392Z" fill="#fff" stroke="none" stroke-width="1.0" stroke-linejoin="round" stroke-linecap="round" />
<path d="M474,432.5 C472.7,431.1 468.2,426.9 466,424 C463.8,421.1 461.5,418.2 461,415 C460.5,411.8 461.5,408 463,405 C464.5,402 467.2,399.1 470,397 C472.8,394.9 477.3,393 480,392.2 C482.7,391.4 485,392 486,392" fill="none" stroke="#1b1b1b" stroke-width="1.1" stroke-linejoin="round" stroke-linecap="round" />
<path d="M486,392 L505,404 L511,409" fill="none" stroke="#1b1b1b" stroke-width="1.1" stroke-linejoin="round" stroke-linecap="round" />
<path d="M474.5,432 C474.4,430.8 473.9,427 473.8,425 C473.7,423 473.1,422.8 474,420 C474.9,417.2 476.7,411 479,408 C481.3,405 484.8,403.3 488,402 C491.2,400.7 495.2,399.9 498,400 C500.8,400.1 503.8,402.1 505,402.5" fill="none" stroke="#1b1b1b" stroke-width="1.1" stroke-linejoin="round" stroke-linecap="round" />
<path d="M482,431 C481.7,429.2 479.5,423.3 480,420 C480.5,416.7 482.8,413.2 485,411 C487.2,408.8 489.7,407.8 493,407 C496.3,406.2 502,406.2 505,406.5 C508,406.8 510,408.6 511,409" fill="none" stroke="#1b1b1b" stroke-width="1.1" stroke-linejoin="round" stroke-linecap="round" />
<path d="M488,430 C488.5,428.2 489.2,421.8 491,419 C492.8,416.2 495.7,414.5 499,413 C502.3,411.5 508,410.3 511,410 C514,409.7 516,410.8 517,411" fill="none" stroke="#1b1b1b" stroke-width="1.1" stroke-linejoin="round" stroke-linecap="round" />
<path d="M495,428 C495.7,426.5 497,421.3 499,419 C501,416.7 503.7,415.2 507,414 C510.3,412.8 515.8,411.8 519,411.5 C522.2,411.2 524.8,411.9 526,412" fill="none" stroke="#1b1b1b" stroke-width="1.1" stroke-linejoin="round" stroke-linecap="round" />
<path d="M430.2,447.7 C430.8,445.8 431.8,444.8 433.5,444.3 L551.3,412.9 L655.7,477.9 L702,465.7 L702,539.3 L551.6,578.5 C546,578 541,574 538.5,569 L534,565.6 L440.4,506.5 C432,501.5 429,497 428.2,490 C426.8,478 426.8,462 427.5,455 C428,451.5 429,449.5 430.2,447.7 Z" fill="#fff" stroke="#1b1b1b" stroke-width="1.8" stroke-linejoin="round" stroke-linecap="round" />
<path d="M436,444.2 L542,509.3" fill="none" stroke="#1b1b1b" stroke-width="1.0" stroke-linejoin="round" stroke-linecap="round" />
<path d="M430.6,451 L535.6,516.5 L547.6,523.8" fill="none" stroke="#1b1b1b" stroke-width="1.0" stroke-linejoin="round" stroke-linecap="round" />
<path d="M542,509.3 L655.7,477.9" fill="none" stroke="#1b1b1b" stroke-width="1.0" stroke-linejoin="round" stroke-linecap="round" />
<path d="M553.3,514.1 L702,475.8" fill="none" stroke="#1b1b1b" stroke-width="1.0" stroke-linejoin="round" stroke-linecap="round" />
<path d="M542,509.3 C541.2,510.1 538.4,512 537.2,514.1 C536,516.2 535.4,518.2 534.8,522.2 C534.2,526.2 533.7,532.9 533.6,538.3 C533.5,543.6 533.7,549.8 534,554.3 C534.3,558.8 534.7,562.9 535.6,565.6 C536.5,568.3 538.9,569.6 539.6,570.4" fill="none" stroke="#1b1b1b" stroke-width="1.0" stroke-linejoin="round" stroke-linecap="round" />
<path d="M553.3,514.1 C552.5,515.2 549.8,517.9 548.4,520.6 C547,523.3 546,525.9 545.2,530.2 C544.4,534.5 543.6,540.1 543.6,546.3 C543.6,552.5 544.5,562.4 545.2,567.2 C545.9,572 547.2,573.9 547.6,575.3" fill="none" stroke="#1b1b1b" stroke-width="1.0" stroke-linejoin="round" stroke-linecap="round" /></g>
<rect x="1.6" y="0.9500000000000001" width="329.8" height="272.45" fill="none" stroke="#ffffff" stroke-width="1"/>
<rect x="0.5" y="-0.15" width="332" height="274.65" fill="none" stroke="#333333" stroke-width="1.25" rx="0"/>
<rect x="368.6" y="1.6" width="329.8" height="271.6" fill="none" stroke="#ffffff" stroke-width="1"/>
<rect x="367.5" y="0.5" width="332" height="273.8" fill="none" stroke="#333333" stroke-width="1.25" rx="0"/>
<rect x="2.6" y="317.6" width="329.8" height="271.8" fill="none" stroke="#ffffff" stroke-width="1"/>
<rect x="1.5" y="316.5" width="332" height="274" fill="none" stroke="#333333" stroke-width="1.25" rx="0"/>
<rect x="369.90000000000003" y="319.90000000000003" width="325.90000000000003" height="268.2" fill="none" stroke="#ffffff" stroke-width="1"/>
<rect x="368.8" y="318.8" width="328.1" height="270.4" fill="none" stroke="#333333" stroke-width="1.25" rx="1.5"/>
<g filter="url(#gs)"><text transform="translate(249.5,506.5) scale(1.107,1)" x="0" y="0" font-family="Liberation Sans" font-size="39" fill="#ffffff" fill-opacity="0.45" stroke="#c2c2c2" stroke-opacity="0.7" stroke-width="0.85">3dplitka.ru</text></g>
</svg></body></html>
